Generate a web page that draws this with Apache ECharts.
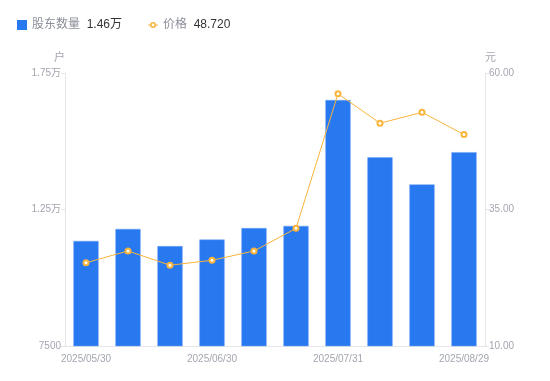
<!DOCTYPE html>
<html><head><meta charset="utf-8">
<script src="https://cdn.jsdelivr.net/npm/echarts@6/dist/echarts.min.js"></script>
<style>html,body{margin:0;padding:0;background:#fff}#c{width:550px;height:381px}</style>
</head><body><div id="c"></div>
<script>
const categories = ['2025/05/30','2025/06/10','2025/06/20','2025/06/30','2025/07/10','2025/07/18','2025/07/31','2025/08/08','2025/08/20','2025/08/29'];
const holders = [11350, 11790, 11160, 11400, 11820, 11900, 16510, 14410, 13420, 14600];
const prices = [25.25, 27.4, 24.8, 25.7, 27.4, 31.55, 56.2, 50.8, 52.8, 48.72];
const leftTicks = {min: 7500, max: 17500, interval: 5000};
const rightTicks = {min: 10, max: 60, interval: 25};

const chart = echarts.init(document.getElementById('c'));
const font = '"Liberation Sans", "Noto Sans CJK SC", sans-serif';
const gray = '#a3a6b0';
const lineIcon = 'path://M0,4.5H2.1V5.5H0Z M7.9,4.5H10V5.5H7.9Z M8,5A3,3 0 1,0 2,5A3,3 0 1,0 8,5Z M6.4,5A1.4,1.4 0 1,1 3.6,5A1.4,1.4 0 1,1 6.4,5Z';
chart.setOption({
  animation: false,
  textStyle: {fontFamily: font},
  legend: {
    left: 12, top: 14, itemWidth: 10, itemHeight: 10, itemGap: 26,
    data: [{name: '股东数量', icon: 'rect', itemStyle: {borderWidth: 0}}, {name: '价格', icon: lineIcon, itemStyle: {color: '#f9b43b', borderWidth: 0}}],
    formatter: function (n) {
      return n === '股东数量' ? '{n|股东数量}  {v|' + (holders[holders.length-1]/10000).toFixed(2) + '万}' : '{n|价格}  {v|' + prices[prices.length-1].toFixed(3) + '}';
    },
    textStyle: {fontFamily: font, rich: {n: {color: '#8c8f99', fontSize: 12, fontFamily: font}, v: {color: '#333', fontSize: 12, fontFamily: font}}}
  },
  grid: {left: 65, right: 65, top: 73, bottom: 35},
  xAxis: {
    type: 'category', data: categories,
    axisLine: {lineStyle: {color: '#e6e6e6'}},
    axisTick: {show: false},
    axisLabel: {color: gray, fontSize: 10, interval: 2, margin: 8, fontFamily: font}
  },
  yAxis: [{
    type: 'value', name: '户', min: leftTicks.min, max: leftTicks.max, interval: leftTicks.interval,
    nameTextStyle: {color: gray, fontSize: 11, align: 'right', fontFamily: font}, nameGap: 10,
    axisLine: {show: true, lineStyle: {color: '#e6e6e6'}},
    axisTick: {show: true, length: 4, lineStyle: {color: '#e6e6e6'}},
    splitLine: {show: false},
    axisLabel: {color: gray, fontSize: 10, margin: 4, fontFamily: font, formatter: v => v >= 10000 ? (v/10000).toFixed(2) + '万' : String(v)}
  }, {
    type: 'value', name: '元', min: rightTicks.min, max: rightTicks.max, interval: rightTicks.interval,
    nameTextStyle: {color: gray, fontSize: 11, align: 'left', fontFamily: font}, nameGap: 10,
    axisLine: {show: true, lineStyle: {color: '#e6e6e6'}},
    axisTick: {show: true, length: 4, lineStyle: {color: '#e6e6e6'}},
    splitLine: {show: false},
    axisLabel: {color: gray, fontSize: 10, margin: 4, fontFamily: font, formatter: v => v.toFixed(2)}
  }],
  series: [{
    name: '股东数量', type: 'bar', data: holders, yAxisIndex: 0, barWidth: '60%',
    itemStyle: {color: '#2878f0', borderColor: '#6fa3f5', borderWidth: 0.5}
  }, {
    name: '价格', type: 'line', data: prices, yAxisIndex: 1,
    symbol: 'emptyCircle', symbolSize: 5,
    lineStyle: {color: '#f9b43b', width: 1},
    itemStyle: {color: '#f9b43b', borderWidth: 2}
  }]
});
</script></body></html>
